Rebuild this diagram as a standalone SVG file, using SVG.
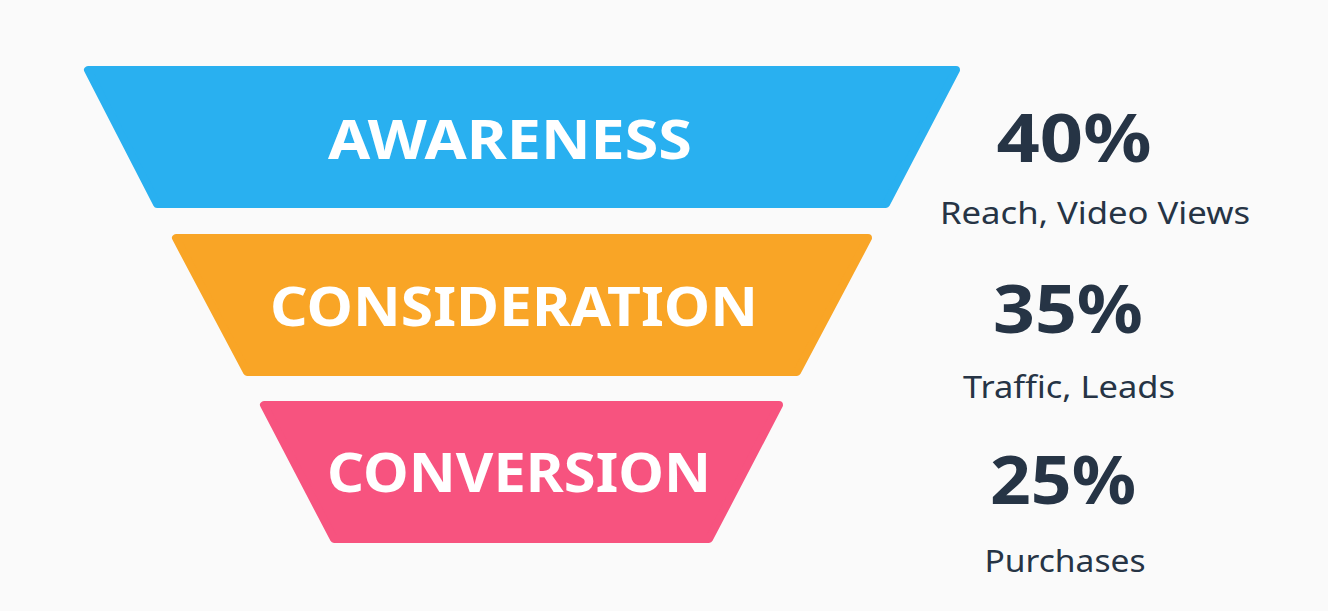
<svg xmlns="http://www.w3.org/2000/svg" width="1328" height="611" viewBox="0 0 1328 611">
<style>
.stage text{font-family:"Noto Sans","Liberation Sans",sans-serif;font-weight:700;fill:#fff;text-anchor:middle}
.pct{font-family:"Noto Sans","Liberation Sans",sans-serif;font-weight:700;fill:#263445;text-anchor:middle;font-size:66px}
.sub{font-family:"Noto Sans","Liberation Sans",sans-serif;fill:#263445;text-anchor:middle;font-size:30px}
.shape{stroke-linejoin:round;stroke-width:8}
</style>
<rect width="1328" height="611" fill="#fafafa"/>
<g id="awareness" class="stage">
<polygon class="shape" points="88,70 956,70 886,204 157,204" fill="#29b0f0" stroke="#29b0f0"/>
<text x="510" y="159" font-size="54" textLength="364" lengthAdjust="spacingAndGlyphs">AWARENESS</text>
</g>
<g id="consideration" class="stage">
<polygon class="shape" points="176,238 868,238 797,372 247,372" fill="#f9a526" stroke="#f9a526"/>
<text x="514" y="326" font-size="54" textLength="488" lengthAdjust="spacingAndGlyphs">CONSIDERATION</text>
</g>
<g id="conversion" class="stage">
<polygon class="shape" points="264,405 779,405 709,539 334,539" fill="#f7537f" stroke="#f7537f"/>
<text x="519" y="492" font-size="54" textLength="384" lengthAdjust="spacingAndGlyphs">CONVERSION</text>
</g>
<g id="stat-awareness">
<text class="pct" x="1074" y="162" textLength="155" lengthAdjust="spacingAndGlyphs">40%</text>
<text class="sub" x="1095" y="224" textLength="310" lengthAdjust="spacingAndGlyphs">Reach, Video Views</text>
</g>
<g id="stat-consideration">
<text class="pct" x="1068" y="333" textLength="150" lengthAdjust="spacingAndGlyphs">35%</text>
<text class="sub" x="1069" y="398" textLength="212" lengthAdjust="spacingAndGlyphs">Traffic, Leads</text>
</g>
<g id="stat-conversion">
<text class="pct" x="1063" y="504" textLength="146" lengthAdjust="spacingAndGlyphs">25%</text>
<text class="sub" x="1065" y="572" textLength="161" lengthAdjust="spacingAndGlyphs">Purchases</text>
</g>
<g id="connectors"/>
</svg>
